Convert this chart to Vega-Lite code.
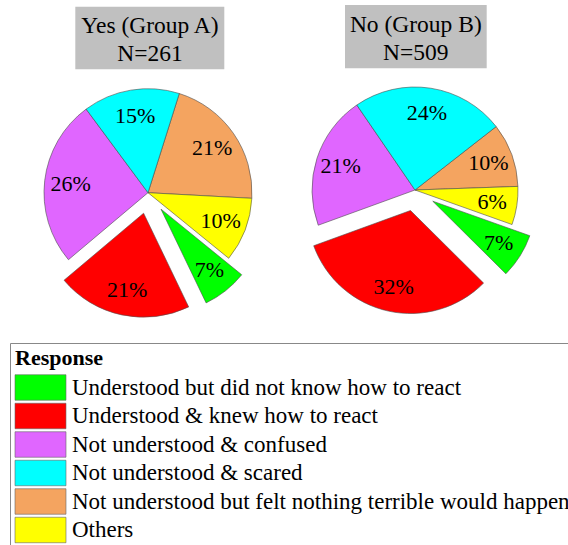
{
  "$schema": "https://vega.github.io/schema/vega-lite/v6.json",
  "padding": {"left": 9, "top": 0, "right": 0, "bottom": 0},
  "background": "white",
  "datasets": {
    "slices": [
      {"group": "A", "response": "Not understood but felt nothing terrible would happen", "pct": 21},
      {"group": "A", "response": "Others", "pct": 10},
      {"group": "A", "response": "Understood but did not know how to react", "pct": 7},
      {"group": "A", "response": "Understood & knew how to react", "pct": 21},
      {"group": "A", "response": "Not understood & confused", "pct": 26},
      {"group": "A", "response": "Not understood & scared", "pct": 15},
      {"group": "B", "response": "Not understood but felt nothing terrible would happen", "pct": 10},
      {"group": "B", "response": "Others", "pct": 6},
      {"group": "B", "response": "Understood but did not know how to react", "pct": 7},
      {"group": "B", "response": "Understood & knew how to react", "pct": 32},
      {"group": "B", "response": "Not understood & confused", "pct": 21},
      {"group": "B", "response": "Not understood & scared", "pct": 24}
    ],
    "groups": [
      {"group": "A", "label": "Yes (Group A)", "n": 261},
      {"group": "B", "label": "No (Group B)", "n": 509}
    ]
  },
  "spacing": 0,
  "hconcat": [
    {
      "width": 267,
      "height": 325,
      "layer": [
        {
          "data": {"name": "groups"},
          "transform": [
            {"filter": "datum.group === 'A'"}
          ],
          "mark": {"type": "rect", "color": "#c0c0c0"},
          "encoding": {
            "x": {"datum": -72.7, "type": "quantitative", "scale": {"domain": [-139, 128], "nice": false, "zero": false}, "axis": null},
            "x2": {"datum": 76.3},
            "y": {"datum": 186, "type": "quantitative", "scale": {"domain": [-132.3, 192.7], "nice": false, "zero": false}, "axis": null},
            "y2": {"datum": 123.4}
          }
        },
        {
          "data": {"name": "groups"},
          "transform": [
            {"filter": "datum.group === 'A'"},
            {"calculate": "datum.label + '\\n' + 'N=' + datum.n", "as": "title"}
          ],
          "mark": {"type": "text", "font": "Liberation Serif", "fontSize": 23.5, "lineBreak": "\n", "lineHeight": 28, "baseline": "alphabetic", "color": "black"},
          "encoding": {
            "x": {"datum": 2, "type": "quantitative"},
            "y": {"datum": 159.7, "type": "quantitative"},
            "text": {"field": "title", "type": "nominal"}
          }
        },
        {
          "data": {"name": "slices"},
          "transform": [
            {"filter": "datum.group === 'A'"},
            {"window": [{"op": "row_number", "as": "idx"}]},
            {"stack": "pct", "groupby": [], "sort": [{"field": "idx", "order": "ascending"}], "as": ["s0", "s1"]},
            {"calculate": "(17.5 + 1.8 * (datum.s0 + datum.s1)) * PI / 180", "as": "mid"},
            {"calculate": "indexof(['Understood but did not know how to react', 'Understood & knew how to react'], datum.response) >= 0 ? 21 : 0", "as": "ex"},
            {"calculate": "datum.ex * sin(datum.mid)", "as": "dx"},
            {"calculate": "datum.ex * cos(datum.mid)", "as": "dy"},
            {"calculate": "datum.dx + 78 * sin(datum.mid)", "as": "lx"},
            {"calculate": "datum.dy + 78 * cos(datum.mid)", "as": "ly"},
            {"calculate": "datum.pct + '%'", "as": "lab"}
          ],
          "layer": [
            {
              "mark": {"type": "arc", "radius": 104, "stroke": "#4d4d4d", "strokeWidth": 0.6},
              "encoding": {
                "x": {"field": "dx", "type": "quantitative"},
                "y": {"field": "dy", "type": "quantitative"},
                "theta": {"field": "s0", "type": "quantitative", "stack": null, "scale": {"domain": [0, 100], "range": [0.305433, 6.588618]}},
                "theta2": {"field": "s1"},
                "color": {
                  "field": "response",
                  "type": "nominal",
                  "scale": {
                    "domain": ["Understood but did not know how to react", "Understood & knew how to react", "Not understood & confused", "Not understood & scared", "Not understood but felt nothing terrible would happen", "Others"],
                    "range": ["#00ff00", "#ff0000", "#e066ff", "#00ffff", "#f4a460", "#ffff00"]
                  },
                  "legend": {
                    "title": "Response", "orient": "none", "legendX": 1, "legendY": 343,
                    "titleFont": "Liberation Serif", "titleFontSize": 22, "titleFontWeight": "bold", "titleColor": "black", "titlePadding": 4,
                    "labelFont": "Liberation Serif", "labelFontSize": 23, "labelColor": "black", "labelLimit": 1000, "labelOffset": 18,
                    "symbolType": "M-2,-1H2V1H-2Z", "symbolSize": 650, "symbolOffset": 12, "symbolStrokeColor": "#666666", "symbolStrokeWidth": 0.6, "symbolOpacity": 1,
                    "strokeColor": "#888888", "padding": 5, "rowPadding": -0.5, "direction": "vertical"
                  }
                }
              }
            },
            {
              "mark": {"type": "text", "font": "Liberation Serif", "fontSize": 22, "color": "black"},
              "encoding": {
                "x": {"field": "lx", "type": "quantitative"},
                "y": {"field": "ly", "type": "quantitative"},
                "text": {"field": "lab", "type": "nominal"}
              }
            }
          ]
        }
      ]
    },
    {
      "width": 267,
      "height": 325,
      "layer": [
        {
          "data": {"name": "groups"},
          "transform": [
            {"filter": "datum.group === 'B'"}
          ],
          "mark": {"type": "rect", "color": "#c0c0c0"},
          "encoding": {
            "x": {"datum": -70, "type": "quantitative", "scale": {"domain": [-139, 128], "nice": false, "zero": false}, "axis": null},
            "x2": {"datum": 71.7},
            "y": {"datum": 185, "type": "quantitative", "scale": {"domain": [-135, 190], "nice": false, "zero": false}, "axis": null},
            "y2": {"datum": 121.7}
          }
        },
        {
          "data": {"name": "groups"},
          "transform": [
            {"filter": "datum.group === 'B'"},
            {"calculate": "datum.label + '\\n' + 'N=' + datum.n", "as": "title"}
          ],
          "mark": {"type": "text", "font": "Liberation Serif", "fontSize": 23.5, "lineBreak": "\n", "lineHeight": 28, "baseline": "alphabetic", "color": "black"},
          "encoding": {
            "x": {"datum": 0.8, "type": "quantitative"},
            "y": {"datum": 158, "type": "quantitative"},
            "text": {"field": "title", "type": "nominal"}
          }
        },
        {
          "data": {"name": "slices"},
          "transform": [
            {"filter": "datum.group === 'B'"},
            {"window": [{"op": "row_number", "as": "idx"}]},
            {"stack": "pct", "groupby": [], "sort": [{"field": "idx", "order": "ascending"}], "as": ["s0", "s1"]},
            {"calculate": "(52 + 1.8 * (datum.s0 + datum.s1)) * PI / 180", "as": "mid"},
            {"calculate": "indexof(['Understood but did not know how to react', 'Understood & knew how to react'], datum.response) >= 0 ? 21 : 0", "as": "ex"},
            {"calculate": "datum.ex * sin(datum.mid)", "as": "dx"},
            {"calculate": "datum.ex * cos(datum.mid)", "as": "dy"},
            {"calculate": "datum.dx + 78 * sin(datum.mid)", "as": "lx"},
            {"calculate": "datum.dy + 78 * cos(datum.mid)", "as": "ly"},
            {"calculate": "datum.pct + '%'", "as": "lab"}
          ],
          "layer": [
            {
              "mark": {"type": "arc", "radius": 103, "stroke": "#4d4d4d", "strokeWidth": 0.6},
              "encoding": {
                "x": {"field": "dx", "type": "quantitative"},
                "y": {"field": "dy", "type": "quantitative"},
                "theta": {"field": "s0", "type": "quantitative", "stack": null, "scale": {"domain": [0, 100], "range": [0.907571, 7.190757]}},
                "theta2": {"field": "s1"},
                "color": {
                  "field": "response",
                  "type": "nominal",
                  "legend": {
                    "title": "Response", "orient": "none", "legendX": 1, "legendY": 343,
                    "titleFont": "Liberation Serif", "titleFontSize": 22, "titleFontWeight": "bold", "titleColor": "black", "titlePadding": 4,
                    "labelFont": "Liberation Serif", "labelFontSize": 23, "labelColor": "black", "labelLimit": 1000, "labelOffset": 18,
                    "symbolType": "M-2,-1H2V1H-2Z", "symbolSize": 650, "symbolOffset": 12, "symbolStrokeColor": "#666666", "symbolStrokeWidth": 0.6, "symbolOpacity": 1,
                    "strokeColor": "#888888", "padding": 5, "rowPadding": -0.5, "direction": "vertical"
                  }
                }
              }
            },
            {
              "mark": {"type": "text", "font": "Liberation Serif", "fontSize": 22, "color": "black"},
              "encoding": {
                "x": {"field": "lx", "type": "quantitative"},
                "y": {"field": "ly", "type": "quantitative"},
                "text": {"field": "lab", "type": "nominal"}
              }
            }
          ]
        }
      ]
    }
  ],
  "resolve": {
    "scale": {"x": "independent", "y": "independent", "theta": "independent", "color": "shared"},
    "legend": {"color": "shared"}
  },
  "config": {
    "view": {"stroke": null},
    "legend": {
      "titleFont": "Liberation Serif",
      "labelFont": "Liberation Serif"
    }
  }
}
